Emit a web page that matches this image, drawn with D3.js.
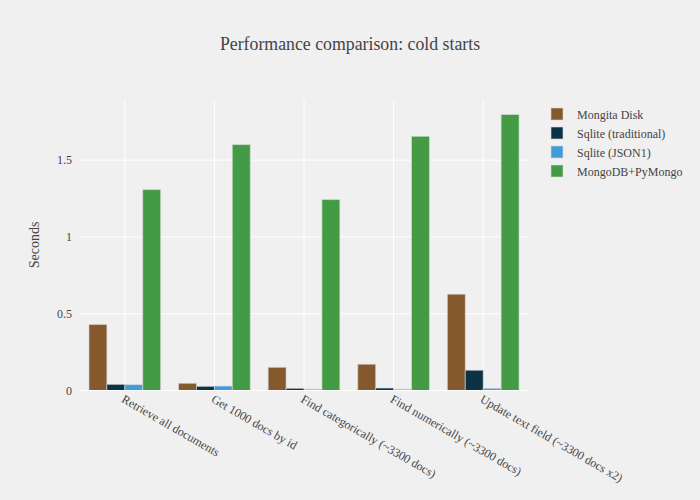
<!DOCTYPE html>
<html><head><meta charset="utf-8">
<script src="https://cdn.jsdelivr.net/npm/d3@7/dist/d3.min.js"></script>
<style>body{margin:0;background:#f0f0f0}svg{display:block}</style>
</head><body><svg id="c" width="700" height="500"></svg>
<script>
const categories = ["Retrieve all documents","Get 1000 docs by id","Find categorically (~3300 docs)","Find numerically (~3300 docs)","Update text field (~3300 docs x2)"];
const seriesNames = ["Mongita Disk","Sqlite (traditional)","Sqlite (JSON1)","MongoDB+PyMongo"];
const mongitaDisk = [0.430, 0.047, 0.151, 0.171, 0.627];
const sqliteTraditional = [0.040, 0.027, 0.014, 0.016, 0.132];
const sqliteJson1 = [0.038, 0.029, 0.008, 0.008, 0.014];
const mongoPymongo = [1.308, 1.601, 1.243, 1.655, 1.797];
const seriesColors = ["#83592d","#0c3245","#409cd9","#439b45"];
const yTicks = [0, 0.5, 1, 1.5];
const yTickLabels = ["0","0.5","1","1.5"];

const series = [mongitaDisk, sqliteTraditional, sqliteJson1, mongoPymongo];
const svg = d3.select("#c");
const font = "'Liberation Serif', 'Times New Roman', serif";
svg.append("rect").attr("width",700).attr("height",500).attr("fill","#f0f0f0");

const L=80, R=528, T=100, B=390.5;
const maxV = d3.max(series.flat());
const x0 = d3.scaleBand().domain(categories).range([L,R]);
const xs = d3.scaleBand().domain(seriesNames).range([0, x0.bandwidth()*0.8]);
const y = d3.scaleLinear().domain([0, maxV*1.0526]).range([B,T]);

const g = svg.append("g");
g.selectAll(".hg").data(yTicks.slice(1)).join("line")
  .attr("x1",L).attr("x2",R).attr("y1",d=>y(d)).attr("y2",d=>y(d))
  .attr("stroke","#ffffff").attr("stroke-width",1);
g.selectAll(".vg").data(categories).join("line")
  .attr("x1",d=>x0(d)+x0.bandwidth()/2).attr("x2",d=>x0(d)+x0.bandwidth()/2)
  .attr("y1",T).attr("y2",B).attr("stroke","#ffffff").attr("stroke-width",1);

series.forEach((vals,si)=>{
  g.append("g").selectAll("rect").data(vals).join("rect")
    .attr("x",(d,i)=>x0(categories[i])+x0.bandwidth()*0.1+xs(seriesNames[si]))
    .attr("width",xs.bandwidth())
    .attr("y",d=>y(d)).attr("height",d=>B-y(d))
    .attr("fill",seriesColors[si])
    .attr("stroke","rgba(220,220,220,0.6)").attr("stroke-width",1);
});
g.append("line").attr("x1",L).attr("x2",R).attr("y1",B).attr("y2",B).attr("stroke","#ffffff").attr("stroke-width",1);

const yAxis = d3.axisLeft(y).tickValues(yTicks).tickFormat((d,i)=>yTickLabels[i]).tickSize(0).tickPadding(8);
const ya = svg.append("g").attr("transform",`translate(${L},0)`).call(yAxis);
ya.select(".domain").remove();
ya.selectAll("text").attr("font-family",font).attr("font-size",12).attr("fill","#444");

const xAxis = d3.axisBottom(x0).tickSize(0).tickPadding(0);
const xa = svg.append("g").attr("transform",`translate(0,${B})`).call(xAxis);
xa.select(".domain").remove();
xa.selectAll("text").attr("font-family",font).attr("font-size",12).attr("fill","#444")
  .attr("text-anchor","start").attr("dy",null).attr("y",0)
  .attr("transform","translate(-4,11) rotate(30)");

svg.append("text").attr("transform","translate(39,245) rotate(-90)").attr("text-anchor","middle")
  .attr("font-family",font).attr("font-size",14).attr("fill","#444").text("Seconds");

svg.append("text").attr("x",350).attr("y",50).attr("text-anchor","middle")
  .attr("font-family",font).attr("font-size",17.8).attr("fill","#444").text("Performance comparison: cold starts");

const lg = svg.append("g").attr("transform","translate(551,108)");
seriesNames.forEach((n,i)=>{
  const r = lg.append("g").attr("transform",`translate(0,${i*19})`);
  r.append("rect").attr("x",0).attr("y",0).attr("width",12).attr("height",12).attr("fill",seriesColors[i])
    .attr("stroke","rgba(220,220,220,0.6)").attr("stroke-width",1);
  r.append("text").attr("x",26).attr("y",10.5).attr("font-family",font).attr("font-size",12).attr("fill","#444").text(n);
});
</script></body></html>
